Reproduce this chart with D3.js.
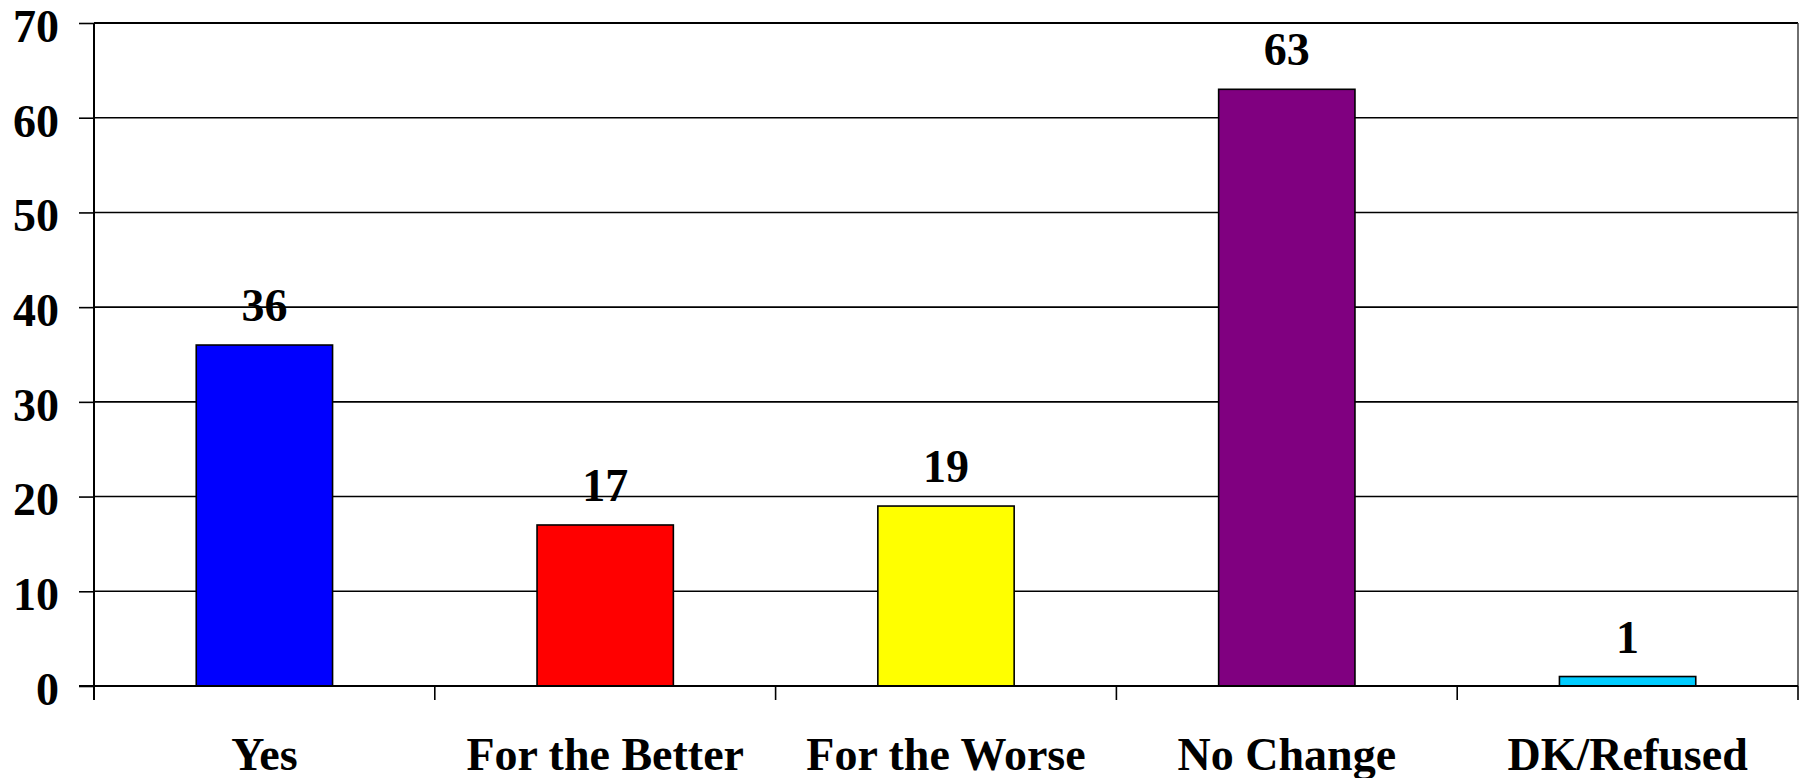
<!DOCTYPE html>
<html>
<head>
<meta charset="utf-8">
<script src="https://cdn.jsdelivr.net/npm/d3@7"></script>
<style>
  html, body { margin: 0; padding: 0; background: #fff; }
  svg { display: block; }
  text { font-family: "Liberation Serif", "Times New Roman", serif; font-weight: bold; fill: #000; }
</style>
</head>
<body>
<svg id="chart" width="1799" height="778"></svg>
<script>
const categories = ["Yes", "For the Better", "For the Worse", "No Change", "DK/Refused"];
const values = [36, 17, 19, 63, 1];
const colors = ["#0000FF", "#FF0000", "#FFFF00", "#800080", "#00CCFF"];
const yTicks = [0, 10, 20, 30, 40, 50, 60, 70];

const W = 1799, H = 778;
const m = { left: 94, right: 1798, top: 23, bottom: 686 };

const svg = d3.select("#chart");

const x = d3.scaleBand().domain(categories).range([m.left, m.right]).paddingInner(0.6).paddingOuter(0.3);
const xOuter = d3.scaleBand().domain(categories).range([m.left, m.right]).padding(0);
const y = d3.scaleLinear().domain([0, 70]).range([m.bottom, m.top]);

// gridlines
svg.append("g").selectAll("line").data(yTicks.filter(d => d > 0)).join("line")
  .attr("x1", m.left).attr("x2", m.right)
  .attr("y1", d => y(d)).attr("y2", d => y(d))
  .attr("stroke", "#000").attr("stroke-width", d => d === 70 ? 2.2 : 1.6);

// right border
svg.append("line").attr("x1", m.right).attr("x2", m.right)
  .attr("y1", y(70)).attr("y2", m.bottom)
  .attr("stroke", "#333").attr("stroke-width", 1.4);

// bars
svg.append("g").selectAll("rect").data(values).join("rect")
  .attr("x", (d, i) => x(categories[i]))
  .attr("width", x.bandwidth())
  .attr("y", d => y(d))
  .attr("height", d => y(0) - y(d))
  .attr("fill", (d, i) => colors[i])
  .attr("stroke", "#000").attr("stroke-width", 1.6);

// value labels
svg.append("g").selectAll("text").data(values).join("text")
  .attr("x", (d, i) => x(categories[i]) + x.bandwidth() / 2)
  .attr("y", d => y(d) - 24)
  .attr("text-anchor", "middle")
  .attr("font-size", 46)
  .text(d => d);

// y axis
const yAxis = d3.axisLeft(y).tickValues(yTicks).tickSize(15).tickPadding(20).tickFormat(d3.format("d"));
const gy = svg.append("g").attr("transform", `translate(${m.left},0)`).call(yAxis);
gy.select(".domain").attr("stroke", "#000").attr("stroke-width", 2)
  .attr("d", `M0,${y(70)}V${m.bottom + 14}`);
gy.selectAll(".tick line").attr("stroke", "#000").attr("stroke-width", 1.6);
gy.selectAll(".tick text")
  .style("font-family", '"Liberation Serif", "Times New Roman", serif')
  .style("font-weight", "bold")
  .attr("font-size", 46).attr("fill", "#000").attr("dy", "0.4em");

// x axis
const xAxis = d3.axisBottom(xOuter).tickSize(0).tickPadding(0);
const gx = svg.append("g").attr("transform", `translate(0,${m.bottom})`).call(xAxis);
gx.select(".domain").attr("stroke", "#000").attr("stroke-width", 2)
  .attr("d", `M${m.left - 15},0H${m.right}`);
gx.selectAll(".tick line").remove();
gx.selectAll(".tick text")
  .style("font-family", '"Liberation Serif", "Times New Roman", serif')
  .style("font-weight", "bold")
  .attr("font-size", 46).attr("fill", "#000")
  .attr("y", 84).attr("dy", 0);

// category boundary ticks
const bounds = categories.map(c => xOuter(c)).concat([m.right]);
svg.append("g").selectAll("line").data(bounds).join("line")
  .attr("x1", d => d).attr("x2", d => d)
  .attr("y1", m.bottom).attr("y2", m.bottom + 14)
  .attr("stroke", "#000").attr("stroke-width", 1.6);
</script>
</body>
</html>
